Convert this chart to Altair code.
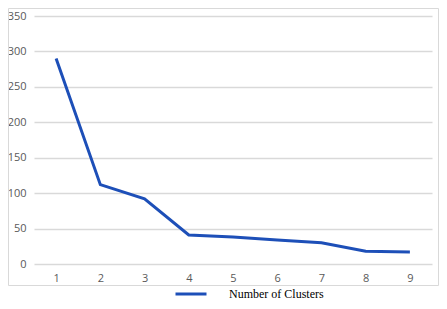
import altair as alt
import pandas as pd

clusters = [1, 2, 3, 4, 5, 6, 7, 8, 9]
values = [290, 112, 92, 41, 38, 34, 30, 18, 17]
series_name = "Number of Clusters"
y_ticks = [0, 50, 100, 150, 200, 250, 300, 350]

df = pd.DataFrame({"k": clusters, "v": values, "series": [series_name] * len(clusters)})

line = alt.Chart(df).mark_line(strokeWidth=3).encode(
    x=alt.X("k:O", scale=alt.Scale(type="point", padding=0.5),
            axis=alt.Axis(title=None, labelAngle=0, domain=False, ticks=False, grid=False,
                          labelPadding=8, labelFont="Open Sans", labelFontSize=11,
                          labelColor="#595959")),
    y=alt.Y("v:Q", scale=alt.Scale(domain=[0, 350], nice=False),
            axis=alt.Axis(title=None, values=y_ticks, domain=False, ticks=False,
                          gridColor="#d9d9d9", gridWidth=1.3, labelPadding=8,
                          labelFont="Open Sans", labelFontSize=11, labelColor="#595959")),
    color=alt.Color("series:N", scale=alt.Scale(range=["#1d4fb8"]),
                    legend=alt.Legend(title=None, orient="none", legendX=140, legendY=261,
                                      symbolType="stroke", symbolSize=961,
                                      symbolStrokeWidth=3, labelOffset=21,
                                      labelFont="Liberation Serif", labelFontSize=12,
                                      labelColor="#000000")),
)

border = alt.Chart(pd.DataFrame({"a": [0]})).mark_rect(
    filled=False, stroke="#d9d9d9", strokeWidth=1
).encode(
    x=alt.value(-25.5), x2=alt.value(404.5), y=alt.value(-7.5), y2=alt.value(269.5)
)

chart = alt.layer(border, line).properties(
    width=398, height=248,
    autosize=alt.AutoSizeParams(type="none"),
    padding={"left": 26, "top": 8, "right": 7, "bottom": 36},
).configure_view(strokeWidth=0)

chart.save("out.html", embed_options={"renderer": "svg", "actions": False})
